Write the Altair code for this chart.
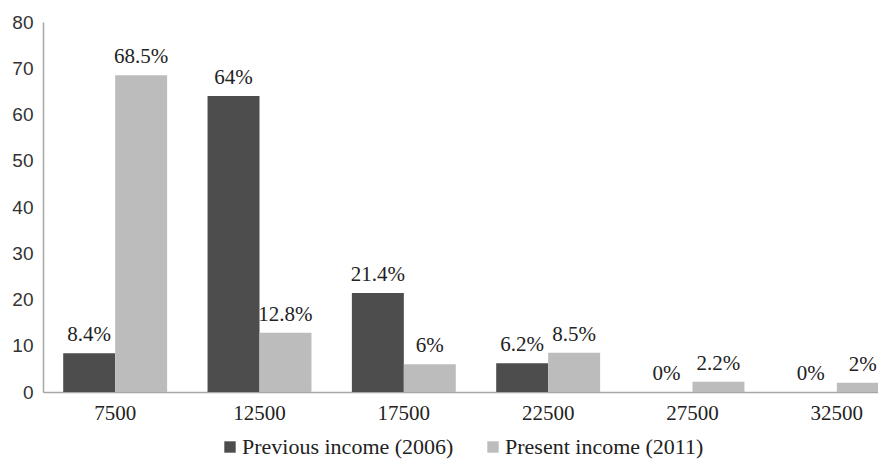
import altair as alt
import pandas as pd

# Income brackets (midpoints) and share of households in each
brackets = ["7500", "12500", "17500", "22500", "27500", "32500"]
previous_2006 = [8.4, 64, 21.4, 6.2, 0, 0]
present_2011 = [68.5, 12.8, 6, 8.5, 2.2, 2]
series_names = ["Previous income (2006)", "Present income (2011)"]
series_colors = ["#4d4d4d", "#bcbcbc"]

rows = []
for b, p, q in zip(brackets, previous_2006, present_2011):
    rows.append({"bracket": b, "series": series_names[0], "value": p, "label": f"{p:g}%"})
    rows.append({"bracket": b, "series": series_names[1], "value": q, "label": f"{q:g}%"})
df = pd.DataFrame(rows)

x_enc = alt.X(
    "bracket:N",
    sort=brackets,
    title=None,
    scale=alt.Scale(range=[0, 866], paddingInner=0.28, paddingOuter=0.14),
    axis=alt.Axis(
        labelAngle=0,
        labelFont="Liberation Serif",
        labelFontSize=21,
        labelColor="#222222",
        labelPadding=10,
        ticks=False,
        domainColor="#a6a6a6",
        domainWidth=1.5,
        grid=False,
    ),
)
xoff = alt.XOffset("series:N", sort=series_names)

base = alt.Chart(df)

bars = base.mark_bar().encode(
    x=x_enc,
    xOffset=xoff,
    y=alt.Y(
        "value:Q",
        title=None,
        scale=alt.Scale(domain=[0, 80]),
        axis=alt.Axis(
            values=list(range(0, 81, 10)),
            labelFont="Liberation Sans",
            labelFontSize=19,
            labelColor="#333333",
            labelPadding=10,
            ticks=False,
            grid=False,
            domainColor="#a6a6a6",
            domainWidth=1.5,
        ),
    ),
    color=alt.Color(
        "series:N",
        sort=series_names,
        scale=alt.Scale(domain=series_names, range=series_colors),
        legend=alt.Legend(
            title=None,
            orient="none",
            legendX=176,
            legendY=414,
            direction="horizontal",
            symbolType="square",
            symbolSize=130,
            symbolStrokeWidth=0,
            labelFont="Liberation Serif",
            labelFontSize=22,
            labelColor="#222222",
            labelOffset=1,
            labelLimit=0,
            columnPadding=28,
        ),
    ),
)

labels = base.mark_text(
    baseline="bottom",
    dy=-8,
    font="Liberation Serif",
    fontSize=21,
    color="#222222",
).encode(
    x=x_enc,
    xOffset=xoff,
    y="value:Q",
    text="label:N",
)

chart = (
    alt.layer(bars, labels)
    .properties(
        width=835,
        height=370,
        autosize=alt.AutoSizeParams(type="none"),
        padding={"left": 43, "top": 22, "right": 0, "bottom": 69},
        background="white",
    )
    .configure_view(stroke=None)
)

chart.save("out.html", embed_options={"renderer": "svg", "actions": False})
